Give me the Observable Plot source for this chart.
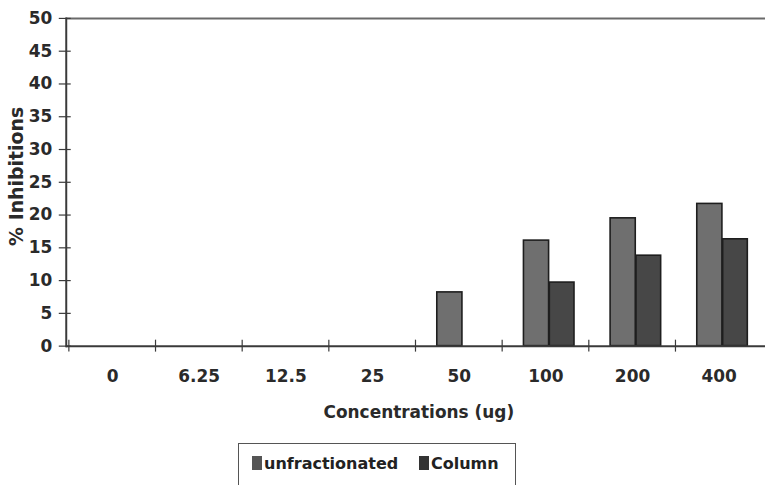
<!DOCTYPE html>
<html>
<head>
<meta charset="utf-8">
<script src="https://cdn.jsdelivr.net/npm/d3@7"></script>
<script src="https://cdn.jsdelivr.net/npm/@observablehq/plot@0.6"></script>
<style>
  html, body { margin: 0; padding: 0; background: #fff; overflow: hidden; width: 765px; height: 485px; }
  #chart { position: absolute; left: 0; top: 0; }
  #legend { position: absolute; left: 238px; top: 443px; width: 276px; height: 60px; border: 1px solid #555; background: #fff;
    font-family: "DejaVu Sans", sans-serif; font-weight: bold; font-size: 16px; color: #222; }
  #legend .item { position: absolute; top: 10px; white-space: nowrap; }
  #legend .sw { display: inline-block; width: 10px; height: 14px; margin-right: 2px; vertical-align: -1px; }
</style>
</head>
<body>
<div id="chart"></div>
<div id="legend"></div>
<script>
const concentrations = ["0", "6.25", "12.5", "25", "50", "100", "200", "400"];
const unfractionated = [0, 0, 0, 0, 8.2, 16.1, 19.5, 21.7];
const column = [0, 0, 0, 0, 0, 9.7, 13.8, 16.3];
const seriesNames = ["unfractionated", "Column"];
const seriesColors = ["#6f6f6f", "#474747"];
const swatchColors = ["#555555", "#333333"];
const yTicks = [0, 5, 10, 15, 20, 25, 30, 35, 40, 45, 50];

const rows = [];
concentrations.forEach((c, i) => {
  rows.push({conc: c, series: seriesNames[0], value: unfractionated[i]});
  rows.push({conc: c, series: seriesNames[1], value: column[i]});
});

const W = 768, H = 430, mL = 66, mR = 0, mT = 18, mB = 83;
const bw = (W - mL - mR) / concentrations.length;
const font = "DejaVu Sans, sans-serif";

const chart = Plot.plot({
  width: W, height: H,
  marginLeft: mL, marginRight: mR, marginTop: mT, marginBottom: mB,
  style: {fontFamily: font, background: "transparent", color: "#2a2a2a"},
  x: {domain: concentrations, padding: 0, label: null},
  y: {domain: [0, 50], label: null},
  marks: [
    Plot.ruleY([50], {stroke: "#6a6a6a", strokeWidth: 2}),
    Plot.barY(rows.filter(d => d.series === seriesNames[0] && d.value > 0), {
      x: "conc", y: "value", fill: seriesColors[0], stroke: "#1e1e1e", strokeWidth: 1.6,
      insetLeft: 21.5, insetRight: bw - 47.5
    }),
    Plot.barY(rows.filter(d => d.series === seriesNames[1] && d.value > 0), {
      x: "conc", y: "value", fill: seriesColors[1], stroke: "#1e1e1e", strokeWidth: 1.6,
      insetLeft: 47.5, insetRight: bw - 73
    }),
    Plot.ruleY([0], {stroke: "#3a3a3a", strokeWidth: 2}),
    Plot.frame({anchor: "left", stroke: "#3a3a3a", strokeWidth: 2}),
    // y ticks crossing the axis line
    Plot.axisY({ticks: yTicks, tickSize: 12, dx: 5, tickFormat: () => "", stroke: "#3a3a3a", strokeWidth: 1.2}),
    // y tick labels
    Plot.axisY({ticks: yTicks, tickSize: 0, tickPadding: 14, fontSize: 17, fontWeight: "bold", fill: "#2a2a2a", label: null}),
    // x ticks at category boundaries
    Plot.axisX({tickSize: 12, dy: -6, dx: -bw / 2, tickFormat: () => "", stroke: "#3a3a3a", strokeWidth: 1.2, label: null}),
    // x tick labels
    Plot.axisX({tickSize: 0, tickPadding: 24, fontSize: 17, fontWeight: "bold", fill: "#2a2a2a", label: null}),
    Plot.text(["% Inhibitions"], {text: d => d, frameAnchor: "left", textAnchor: "middle", dx: -50, dy: -6, rotate: -90,
      fontSize: 19, fontWeight: "bold", fill: "#2a2a2a"}),
    Plot.text(["Concentrations (ug)"], {text: d => d, frameAnchor: "bottom", dx: 3, dy: 72,
      fontSize: 17, fontWeight: "bold", fill: "#2a2a2a"})
  ]
});
document.getElementById("chart").appendChild(chart);

const legend = document.getElementById("legend");
const offsets = [13, 180];
seriesNames.forEach((name, i) => {
  const item = document.createElement("div");
  item.className = "item";
  item.style.left = offsets[i] + "px";
  const sw = document.createElement("span");
  sw.className = "sw";
  sw.style.background = swatchColors[i];
  item.appendChild(sw);
  item.appendChild(document.createTextNode(name));
  legend.appendChild(item);
});
</script>
</body>
</html>
